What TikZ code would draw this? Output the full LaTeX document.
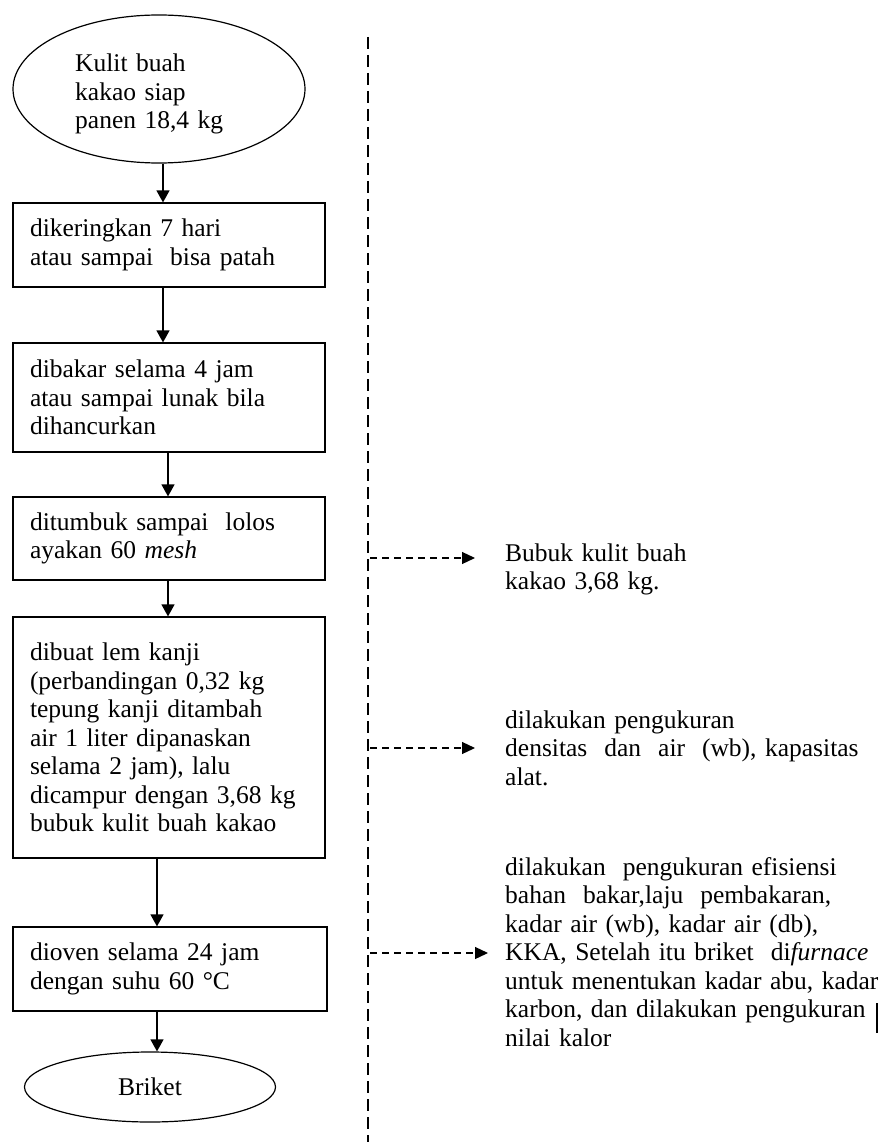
\documentclass[tikz,border=0pt]{standalone}
\usepackage{fontspec}
\setmainfont{Liberation Serif}
\usetikzlibrary{arrows.meta,shapes.geometric}
\begin{document}
\begin{tikzpicture}[x=1pt,y=-1pt,
  txt/.style={font=\fontsize{25.5}{28.5}\selectfont, align=left, inner sep=0pt},
  proc/.style={draw, line width=1.2pt, text width=278pt, inner xsep=17pt, inner ysep=0pt,
    align=left, font=\fontsize{25.5}{28.5}\selectfont},
  term/.style={draw, ellipse, line width=1.2pt, inner sep=0pt, font=\fontsize{25.5}{28.5}\selectfont},
  arr/.style={-{Triangle[length=12pt,width=13pt]}, line width=1.2pt},
  darr/.style={-{Triangle[length=13pt,width=12pt]}, line width=1.2pt, dash pattern=on 7pt off 5pt},
  vline/.style={line width=1.4pt, dash pattern=on 12pt off 6pt}]
\useasboundingbox (0,0) rectangle (891,1142);

% left column
\node[term, minimum width=292pt, minimum height=148pt] (start) at (159,89) {};
\node[txt, text width=170pt, anchor=base west] (starttext) at (75,72)
  {Kulit buah\\kakao siap\\panen 18,4 kg};

\node[proc, minimum height=84pt] (b1) at (169,245)
  {dikeringkan 7 hari\\atau sampai\ \ bisa patah};
\node[proc, minimum height=109pt] (b2) at (169,397.5)
  {dibakar selama 4 jam\\atau sampai lunak bila\\dihancurkan};
\node[proc, minimum height=83pt] (b3) at (169,538.5)
  {ditumbuk sampai\ \ lolos\\ayakan 60 \textit{mesh}};
\node[proc, minimum height=241pt] (b4) at (169,737.5)
  {dibuat lem kanji\\(perbandingan 0,32 kg\\tepung kanji ditambah\\air 1 liter dipanaskan\\selama 2 jam), lalu\\dicampur dengan 3,68 kg\\bubuk kulit buah kakao};
\node[proc, minimum height=84pt, text width=280pt] (b5) at (170,969)
  {dioven selama 24 jam\\dengan suhu 60 °C};
\node[term, minimum width=251pt, minimum height=70pt] (end) at (150,1087) {Briket};

\draw[arr] ([xshift=4pt]start.south) -- ([xshift=-6pt]b1.north);
\draw[arr] ([xshift=-6pt]b1.south) -- ([xshift=-6pt]b2.north);
\draw[arr] ([xshift=-1pt]b2.south) -- ([xshift=-1pt]b3.north);
\draw[arr] ([xshift=-1pt]b3.south) -- ([xshift=-1pt]b4.north);
\draw[arr] ([xshift=-12pt]b4.south) -- ([xshift=-13pt]b5.north);
\draw[arr] ([xshift=-13pt]b5.south) -- ([xshift=7pt]end.north);

% divider
\coordinate (vtop) at (368,37);
\coordinate (vbot) at (368,1142);
\draw[vline] (vtop) -- (vbot);

% right column
\node[txt, text width=385pt, anchor=base west] (t1) at (505,561)
  {Bubuk kulit buah\\kakao 3,68 kg.};
\node[txt, text width=385pt, anchor=base west] (t2) at (505,728)
  {dilakukan pengukuran\\densitas\ \ dan\ \ air\ \ (wb), kapasitas\\alat.};
\node[txt, text width=385pt, anchor=base west] (t3) at (505,875)
  {dilakukan\ \ pengukuran efisiensi\\bahan\ \ bakar,laju\ \ pembakaran,\\kadar air (wb), kadar air (db),\\KKA, Setelah itu briket\ \ di\textit{furnace}\\untuk menentukan kadar abu, kadar\\karbon, dan dilakukan pengukuran\hspace{10pt}\smash{\rule[-15pt]{2pt}{30pt}}\\nilai kalor};

\coordinate (d1) at (370,558);
\coordinate (d2) at (370,748);
\coordinate (d3) at (370,953);
\draw[darr] (d1) -- ([xshift=-30pt]d1 -| t1.west);
\draw[darr] (d2) -- ([xshift=-30pt]d2 -| t2.west);
\draw[darr] (d3) -- ([xshift=-17pt]d3 -| t3.west);
\end{tikzpicture}
\end{document}
